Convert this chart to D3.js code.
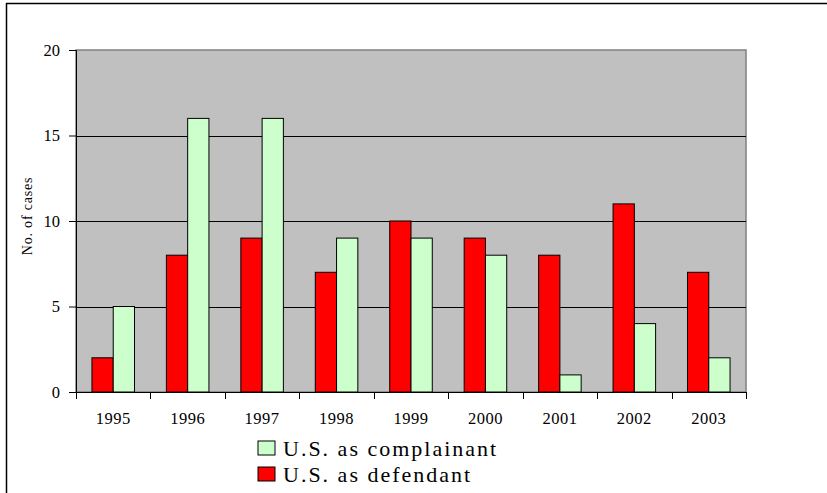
<!DOCTYPE html>
<html><head><meta charset="utf-8">
<script src="https://cdn.jsdelivr.net/npm/d3@7"></script>
<style>html,body{margin:0;padding:0;background:#fff;}svg{display:block;}</style>
</head><body>
<script>
const years = ["1995","1996","1997","1998","1999","2000","2001","2002","2003"];
const defendant = [2, 8, 9, 7, 10, 9, 8, 11, 7];
const complainant = [5, 16, 16, 9, 9, 8, 1, 4, 2];
const yTicks = [0, 5, 10, 15, 20];
const seriesNames = ["U.S. as defendant", "U.S. as complainant"];

(function () {
const W = 827, H = 493;
const svg = d3.select("body").append("svg").attr("width", W).attr("height", H);
const font = "Liberation Serif";

// outer frame
svg.append("line").attr("x1", 6).attr("x2", W).attr("y1", 3.5).attr("y2", 3.5).attr("stroke", "#000").attr("stroke-width", 1.5);
svg.append("line").attr("x1", 6.5).attr("x2", 6.5).attr("y1", 3).attr("y2", H).attr("stroke", "#000").attr("stroke-width", 1.5);

const pL = 76, pR = 746, pT = 50, pB = 392;
const x = d3.scaleBand().domain(years).range([pL, pR]).paddingInner(0).paddingOuter(0);
const y = d3.scaleLinear().domain([0, 20]).range([pB, pT]);
const barW = x.bandwidth() / 3.5;
const x1 = d3.scaleBand().domain(seriesNames).range([0, barW * 2]);
const offset = (x.bandwidth() - barW * 2) / 2;

svg.append("rect").attr("x", pL).attr("y", pT).attr("width", pR - pL).attr("height", pB - pT)
  .attr("fill", "#c0c0c0").attr("stroke", "#808080").attr("stroke-width", 1.5);

// gridlines
svg.append("g").selectAll("line").data(yTicks.filter(t => t > 0 && t < 20)).join("line")
  .attr("x1", pL).attr("x2", pR).attr("y1", d => Math.round(y(d)) + 0.5).attr("y2", d => Math.round(y(d)) + 0.5)
  .attr("stroke", "#000").attr("stroke-width", 1);

// bars
const colors = {"U.S. as defendant": "#ff0000", "U.S. as complainant": "#ccffcc"};
const data = years.map((yr, i) => ({yr, vals: [
  {name: seriesNames[0], v: defendant[i]},
  {name: seriesNames[1], v: complainant[i]}]}));
const g = svg.append("g").selectAll("g").data(data).join("g")
  .attr("transform", d => `translate(${x(d.yr) + offset},0)`);
g.selectAll("rect").data(d => d.vals).join("rect")
  .attr("x", d => x1(d.name)).attr("width", x1.bandwidth())
  .attr("y", d => y(d.v)).attr("height", d => y(0) - y(d.v))
  .attr("fill", d => colors[d.name]).attr("stroke", "#000").attr("stroke-width", 1);

// y axis
const yAxis = svg.append("g").attr("transform", `translate(${pL},0)`)
  .call(d3.axisLeft(y).tickValues(yTicks).tickSize(7).tickPadding(9).tickFormat(d3.format("d")));
yAxis.select(".domain").attr("stroke", "#000");
yAxis.selectAll("text").style("font-family", font).style("font-size", "16.5px").attr("fill", "#000");

// x axis
const xAxis = svg.append("g").attr("transform", `translate(0,${pB})`);
xAxis.append("line").attr("x1", pL).attr("x2", pR).attr("y1", 0.5).attr("y2", 0.5).attr("stroke", "#000");
const boundaries = d3.range(years.length + 1).map(i => pL + i * x.bandwidth());
xAxis.selectAll(".tk").data(boundaries).join("line").attr("class", "tk")
  .attr("x1", d => Math.round(d) + 0.5).attr("x2", d => Math.round(d) + 0.5).attr("y1", 0).attr("y2", 7).attr("stroke", "#000");
xAxis.selectAll("text").data(years).join("text")
  .attr("x", d => x(d) + x.bandwidth() / 2).attr("y", 32)
  .attr("text-anchor", "middle").style("font-family", font).style("font-size", "16.5px")
  .style("letter-spacing", "0.5px").text(d => d);

// y label
svg.append("text").attr("transform", `translate(32,216) rotate(-90)`)
  .attr("text-anchor", "middle").style("font-family", font).style("font-size", "14px")
  .style("letter-spacing", "0.8px").text("No. of cases");

// legend
const legend = [{name: "U.S. as complainant", y: 441}, {name: "U.S. as defendant", y: 467}];
const lg = svg.append("g").selectAll("g").data(legend).join("g");
lg.append("rect").attr("x", 258).attr("y", d => d.y).attr("width", 17).attr("height", 14)
  .attr("fill", d => colors[d.name]).attr("stroke", "#000").attr("stroke-width", 1);
lg.append("text").attr("x", 283).attr("y", d => d.y + 15).style("font-family", font).style("font-size", "22px")
  .style("letter-spacing", "2px").text(d => d.name);
})();
</script>
</body></html>
